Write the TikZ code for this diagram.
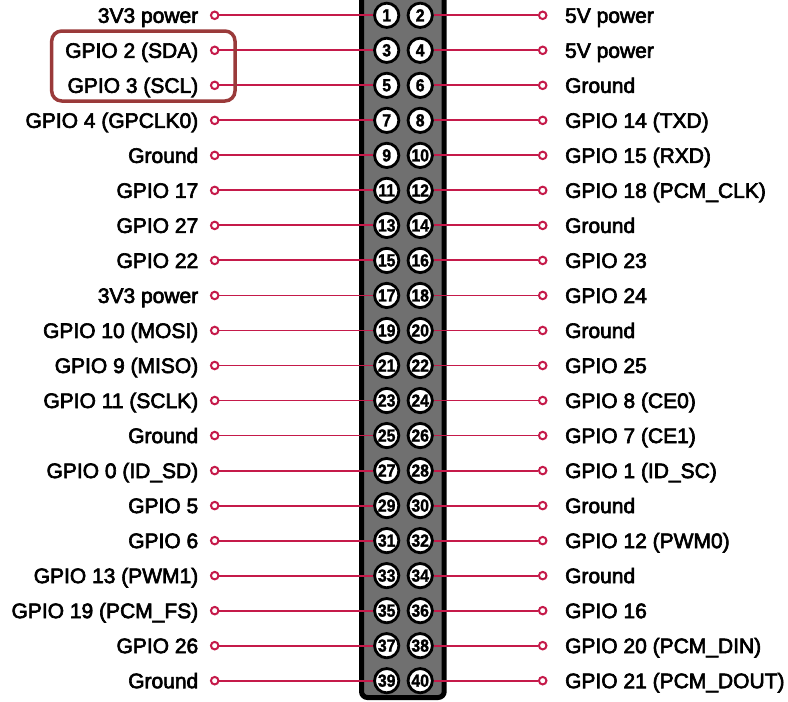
\documentclass[tikz,border=0pt]{standalone}
\usepackage{fontspec}
\setmainfont[FakeBold=3]{Liberation Sans}
\newfontfamily\pinfont[FakeStretch=0.9,FakeBold=1.5]{Liberation Sans}
\usetikzlibrary{positioning}

\definecolor{pired}{HTML}{C51A4A}
\definecolor{boxred}{HTML}{9A3A3A}
\definecolor{headergray}{HTML}{707070}

\begin{document}
\begin{tikzpicture}[x=1pt, y=-1pt, node distance=12pt]
    \tikzstyle{header} = [rectangle, rounded corners=6pt, draw=black, line width=5pt, fill=headergray, minimum width=82.7pt, minimum height=707.5pt, inner sep=0pt]
    \tikzstyle{pin} = [circle, draw=black, line width=2.8pt, fill=white, minimum size=24.3pt, inner sep=0pt, font=\pinfont\bfseries\fontsize{17.5}{17.5}\selectfont]
    \tikzstyle{term} = [circle, draw=pired, line width=2pt, fill=white, minimum size=7.5pt, inner sep=0pt]
    \tikzstyle{pinname} = [inner sep=0pt, text height=18.9pt, text depth=3.9pt, font=\fontsize{21}{25}\selectfont]
    \tikzstyle{wire} = [pired, line width=1.9pt]
    \tikzstyle{selbox} = [draw=boxred, line width=3.5pt, rounded corners=10pt]

    \useasboundingbox (0,0) rectangle (788,702);

    % Header strip
    \node (header) [header] at (402.85,343.75) {};

    % Pins, terminals and names, one row of the header at a time
    \foreach \row/\lname/\rname in {
        1/3V3 power/5V power,
        2/GPIO 2 (SDA)/5V power,
        3/GPIO 3 (SCL)/Ground,
        4/GPIO 4 (GPCLK0)/GPIO 14 (TXD),
        5/Ground/GPIO 15 (RXD),
        6/GPIO 17/GPIO 18 (PCM\_CLK),
        7/GPIO 27/Ground,
        8/GPIO 22/GPIO 23,
        9/3V3 power/GPIO 24,
        10/GPIO 10 (MOSI)/Ground,
        11/GPIO 9 (MISO)/GPIO 25,
        12/GPIO 11 (SCLK)/GPIO 8 (CE0),
        13/Ground/GPIO 7 (CE1),
        14/GPIO 0 (ID\_SD)/GPIO 1 (ID\_SC),
        15/GPIO 5/Ground,
        16/GPIO 6/GPIO 12 (PWM0),
        17/GPIO 13 (PWM1)/Ground,
        18/GPIO 19 (PCM\_FS)/GPIO 16,
        19/GPIO 26/GPIO 20 (PCM\_DIN),
        20/Ground/GPIO 21 (PCM\_DOUT)} {
        \pgfmathsetmacro{\y}{15.3+35.02*(\row-1)}
        \pgfmathtruncatemacro{\odd}{2*\row-1}
        \pgfmathtruncatemacro{\even}{2*\row}
        \node (p\odd) [pin] at (386.7,\y) {\odd};
        \node (p\even) [pin] at (420.2,\y) {\even};
        \node (t\odd) [term] at (214.7,\y) {};
        \node (t\even) [term] at (542.7,\y) {};
        \node (n\odd) [pinname, left=11.5pt of t\odd] {\lname};
        \node (n\even) [pinname, right=17.5pt of t\even] {\rname};
        \draw [wire] (t\odd) -- (p\odd);
        \draw [wire] (p\even) -- (t\even);
    }

    % I2C pins
    \draw [selbox] (51.7,31) rectangle (235,101);
\end{tikzpicture}
\end{document}
